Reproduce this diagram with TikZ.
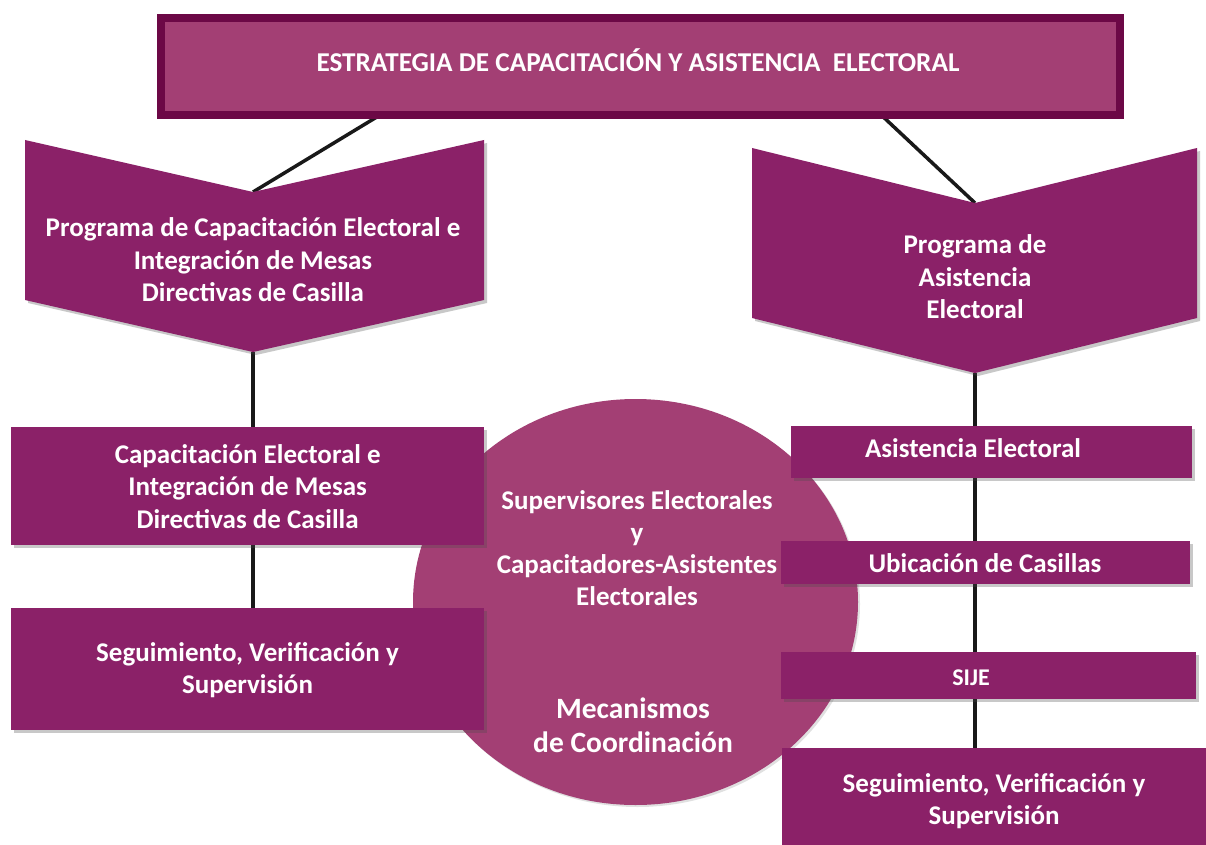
\documentclass[tikz,border=0pt]{standalone}
\usepackage{fontspec}
\setmainfont{Carlito}
\usetikzlibrary{shapes.geometric,shadows}
\pgfdeclarelayer{bg}
\pgfsetlayers{bg,main}
\definecolor{boxfill}{RGB}{139,33,104}
\definecolor{lightfill}{RGB}{163,63,116}
\definecolor{topborder}{RGB}{108,8,70}
\definecolor{linecol}{RGB}{25,25,25}
\tikzset{
  shad/.style={drop shadow={shadow xshift=3pt,shadow yshift=-3pt,opacity=0.3,fill=black!70}},
  box/.style={rectangle,fill=boxfill,inner sep=0pt,anchor=north west,shad},
  txt/.style={text=white,font=\bfseries\fontsize{27}{32.5}\selectfont,align=center,inner sep=0pt},
  conn/.style={draw=linecol,line width=3.5pt},
}
\begin{document}
\begin{tikzpicture}[x=1pt,y=-1pt]
\useasboundingbox (0,0) rectangle (1206,845);
% connector anchor points
\coordinate (topL) at (385,112);
\coordinate (topR) at (878,112);
\coordinate (notchL) at (253,192);
\coordinate (tipL) at (253,352);
\coordinate (notchR) at (975,203);
\coordinate (tipR) at (975,373);
% top box
\node[rectangle,draw=topborder,line width=8pt,fill=lightfill,minimum width=959pt,minimum height=97pt,anchor=north west,inner sep=0pt,shad] (top) at (157,14) {};
\node[txt,font=\bfseries\fontsize{27.2}{30}\selectfont] (topT) at (638,60) {ESTRATEGIA DE CAPACITACIÓN Y ASISTENCIA~~ELECTORAL};
% chevrons
\fill[boxfill,shad] (25,140) -- (notchL) -- (484,140) -- (484,300) -- (tipL) -- (25,300) -- cycle;
\node[txt] (chL) at (253,260) {Programa de Capacitación Electoral e\\Integración de Mesas\\Directivas de Casilla};
\fill[boxfill,shad] (752,148) -- (notchR) -- (1197,148) -- (1197,318) -- (tipR) -- (752,318) -- cycle;
\node[txt] (chR) at (975,277) {Programa de\\Asistencia\\Electoral};
% central ellipse
\node[ellipse,fill=lightfill,minimum width=445pt,minimum height=406pt,inner sep=0pt,drop shadow={shadow xshift=2pt,shadow yshift=-2pt,opacity=0.2,fill=black!60}] (circ) at (635.5,602) {};
\node[txt,font=\bfseries\fontsize{27}{32}\selectfont] (circT1) at (637,548) {Supervisores Electorales\\y\\Capacitadores-Asistentes\\Electorales};
\node[txt,font=\bfseries\fontsize{29.5}{34}\selectfont] (circT2) at (633,725) {Mecanismos\\de Coordinación};
% boxes
\node[box,minimum width=473pt,minimum height=118pt] (cL1) at (11,427) {};
\node[txt] (cL1T) at (cL1.center) {Capacitación Electoral e\\Integración de Mesas\\Directivas de Casilla};
\node[box,minimum width=473pt,minimum height=122pt] (cL2) at (11,608) {};
\node[txt] (cL2T) at (247.5,670) {Seguimiento, Verificación y\\Supervisión};
\node[box,minimum width=401pt,minimum height=52pt] (rA) at (791,426) {};
\node[txt] (rAT) at (973,448) {Asistencia Electoral};
\node[box,minimum width=409pt,minimum height=43pt] (rU) at (781,541) {};
\node[txt] (rUT) at (985,563) {Ubicación de Casillas};
\node[box,minimum width=415pt,minimum height=47pt] (rS) at (781,652) {};
\node[txt,font=\bfseries\fontsize{24}{26}\selectfont] (rST) at (971,678) {SIJE};
\node[box,minimum width=424pt,minimum height=97pt] (rV) at (782,748) {};
\node[txt] (rVT) at (994,801) {Seguimiento, Verificación y\\Supervisión};
% connectors (behind)
\begin{pgfonlayer}{bg}
\fill[white] (0,0) rectangle (1206,845);
\draw[conn] (topL) -- (notchL);
\draw[conn] (topR) -- (notchR);
\draw[conn] (tipL) -- (tipL |- cL1.north);
\draw[conn] (tipL |- cL1.south) -- (tipL |- cL2.north);
\draw[conn] (tipR) -- (tipR |- rA.north);
\draw[conn] (tipR |- rA.south) -- (tipR |- rU.north);
\draw[conn] (tipR |- rU.south) -- (tipR |- rS.north);
\draw[conn] (tipR |- rS.south) -- (tipR |- rV.north);
\end{pgfonlayer}
\end{tikzpicture}
\end{document}
